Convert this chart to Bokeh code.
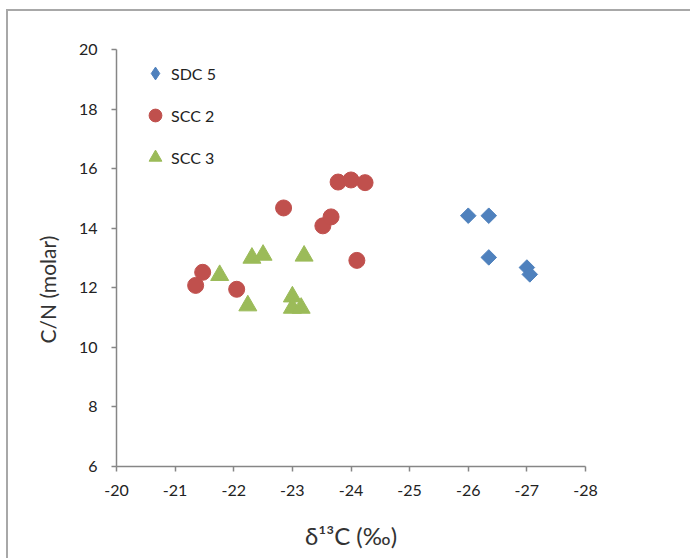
import numpy as np
from bokeh.plotting import figure
from bokeh.models import Range1d, FixedTicker, Legend, LegendItem, PrintfTickFormatter, Title
from bokeh.embed import file_html
from bokeh.resources import INLINE

# Data
sdc5_d13c = [-26.0, -26.35, -26.35, -27.0, -27.05]
sdc5_cn = [14.42, 14.42, 13.02, 12.68, 12.45]

scc2_d13c = [-21.35, -21.47, -22.05, -22.85, -23.52, -23.66, -23.78, -24.0, -24.24, -24.1]
scc2_cn = [12.08, 12.52, 11.95, 14.68, 14.08, 14.38, 15.55, 15.62, 15.53, 12.92]

scc3_d13c = [-21.76, -22.24, -22.31, -22.5, -23.0, -23.0, -23.15, -23.2]
scc3_cn = [12.42, 11.4, 13.0, 13.1, 11.7, 11.32, 11.32, 13.07]

series_names = ["SDC 5", "SCC 2", "SCC 3"]
x_ticks = [-20, -21, -22, -23, -24, -25, -26, -27, -28]
y_ticks = [6, 8, 10, 12, 14, 16, 18, 20]
x_title = "δ¹³C (‰)"
y_title = "C/N (molar)"

BLUE = "#4F81BD"
RED = "#C0504D"
GREEN = "#9BBB59"
FONT = "Lato"

W, H = 684, 549
p = figure(width=W, height=H, output_backend="svg", toolbar_location=None,
           x_range=Range1d(-20, -28), y_range=Range1d(6, 20),
           min_border_left=108, min_border_right=107,
           min_border_top=38, min_border_bottom=94)
p.styles = {"margin-left": "6px", "margin-top": "9px",
            "border-left": "2px solid #a8a8a8", "border-top": "2px solid #a8a8a8"}
p.outline_line_color = None
p.xgrid.grid_line_color = None
p.ygrid.grid_line_color = None
p.background_fill_color = "white"
p.border_fill_color = "white"

# legend proxy for the diamond symbol (tiny, hidden under the real markers)
r1_leg = p.scatter(sdc5_d13c, sdc5_cn, marker="diamond", size=1,
                   fill_color=BLUE, line_color=BLUE)
r1 = p.scatter(sdc5_d13c, sdc5_cn, marker="square", size=11, angle=np.pi / 4,
               fill_color=BLUE, line_color=BLUE)
r2 = p.scatter(scc2_d13c, scc2_cn, marker="circle", size=16,
               fill_color=RED, line_color=RED)
r3 = p.scatter(scc3_d13c, scc3_cn, marker="triangle", size=18,
               fill_color=GREEN, line_color=GREEN)

for ax in (p.xaxis[0], p.yaxis[0]):
    ax.axis_line_color = "#868686"
    ax.axis_line_width = 1.5
    ax.major_tick_line_color = "#868686"
    ax.major_tick_line_width = 1.5
    ax.major_tick_in = 0
    ax.major_tick_out = 5
    ax.minor_tick_line_color = None
    ax.major_label_text_font = FONT
    ax.major_label_text_font_size = "16px"
    ax.major_label_text_color = "#222222"
    ax.axis_label_text_font = FONT
    ax.axis_label_text_font_style = "normal"
    ax.axis_label_text_color = "#333333"
    ax.formatter = PrintfTickFormatter(format="%d")

p.xaxis.ticker = FixedTicker(ticks=x_ticks)
p.yaxis.ticker = FixedTicker(ticks=y_ticks)
p.xaxis.major_label_standoff = 13
p.yaxis.major_label_standoff = 14
p.xaxis.axis_label = x_title
p.xaxis.axis_label_text_font_size = "24px"
p.xaxis.axis_label_standoff = 22

# y-axis title (sits lower than the plot centre in the reference)
p.add_layout(Title(text=y_title, align="left", offset=123, standoff=31,
                   text_font=FONT, text_font_size="21px",
                   text_font_style="normal", text_color="#333333"), "left")

legend = Legend(items=[LegendItem(label=series_names[0], renderers=[r1_leg]),
                       LegendItem(label=series_names[1], renderers=[r2]),
                       LegendItem(label=series_names[2], renderers=[r3])],
                location=(23, 417 - 6 - 120), orientation="vertical",
                padding=0, margin=0, spacing=6,
                glyph_width=32, glyph_height=36, label_height=36,
                label_standoff=0,
                label_text_font=FONT, label_text_font_size="16px",
                label_text_color="#222222",
                border_line_color=None, background_fill_alpha=0)
p.add_layout(legend, "center")

open("out.html", "w").write(file_html(p, INLINE))
